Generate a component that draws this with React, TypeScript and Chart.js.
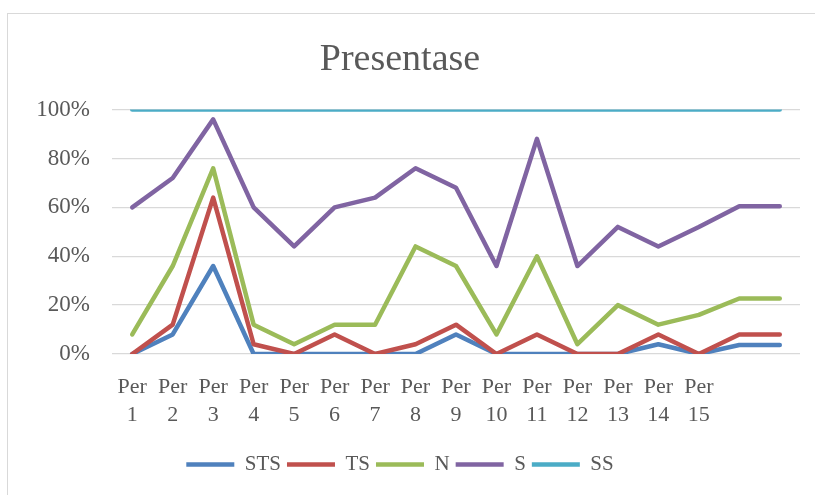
import React, { useEffect, useRef } from "react";
import { Chart, registerables } from "chart.js";

Chart.register(...registerables);

const categories = [
  "Per 1", "Per 2", "Per 3", "Per 4", "Per 5", "Per 6", "Per 7", "Per 8",
  "Per 9", "Per 10", "Per 11", "Per 12", "Per 13", "Per 14", "Per 15", "", "",
];

const STS = [0, 8, 36, 0, 0, 0, 0, 0, 8, 0, 0, 0, 0, 4, 0, 3.7, 3.7];
const TS = [0, 12, 64, 4, 0, 8, 0, 4, 12, 0, 8, 0, 0, 8, 0, 8, 8];
const N = [8, 36, 76, 12, 4, 12, 12, 44, 36, 8, 40, 4, 20, 12, 16, 22.7, 22.7];
const S = [60, 72, 96, 60, 44, 60, 64, 76, 68, 36, 88, 36, 52, 44, 52, 60.5, 60.5];
const SS = [100, 100, 100, 100, 100, 100, 100, 100, 100, 100, 100, 100, 100, 100, 100, 100, 100];

const seriesNames = ["STS", "TS", "N", "S", "SS"];
const seriesColors = ["#4F81BD", "#C0504D", "#9BBB59", "#8064A2", "#4BACC6"];
const yTicks = [0, 20, 40, 60, 80, 100];

const FONT = "'Liberation Serif', 'Times New Roman', serif";
const TEXT = "#595959";

export default function App() {
  const ref = useRef<HTMLCanvasElement>(null);

  useEffect(() => {
    if (!ref.current) return;
    const values = [STS, TS, N, S, SS];
    const chart = new Chart(ref.current, {
      type: "line",
      data: {
        labels: categories.map((c) => (c ? c.split(" ") : "")),
        datasets: values.map((v, i) => ({
          label: seriesNames[i],
          data: v,
          borderColor: seriesColors[i],
          backgroundColor: seriesColors[i],
          borderWidth: 4.5,
          borderCapStyle: "round" as const,
          borderJoinStyle: "round" as const,
          pointRadius: 0,
          pointHoverRadius: 0,
          tension: 0,
          fill: false,
          order: 5 - i,
        })),
      },
      options: {
        responsive: false,
        animation: false,
        layout: { padding: { left: 0, right: 15, top: 0, bottom: 10 } },
        plugins: {
          tooltip: { enabled: false },
          title: {
            display: true,
            text: "Presentase",
            color: TEXT,
            font: { family: FONT, size: 38, weight: "normal" },
            padding: { top: 37, bottom: 27 },
          },
          legend: {
            position: "bottom",
            labels: {
              color: TEXT,
              font: { family: FONT, size: 21 },
              usePointStyle: true,
              pointStyle: "line",
              pointStyleWidth: 48,
              boxWidth: 48,
              padding: 6,
              sort: (a: any, b: any) => a.datasetIndex - b.datasetIndex,
            },
          },
        },
        scales: {
          x: {
            offset: true,
            grid: { display: false, drawTicks: false },
            border: { display: false },
            ticks: {
              color: TEXT,
              font: { family: FONT, size: 22, lineHeight: 1.27 },
              padding: 19,
              maxRotation: 0,
              autoSkip: false,
            },
            afterFit: (s: any) => {
              s.height = 94;
            },
          },
          y: {
            min: 0,
            max: 100,
            grid: { color: "#d9d9d9", lineWidth: 1.3, drawTicks: false },
            border: { display: false },
            afterBuildTicks: (s: any) => {
              s.ticks = yTicks.map((v) => ({ value: v }));
            },
            ticks: {
              color: TEXT,
              font: { family: FONT, size: 23 },
              padding: 22,
              callback: (v: any) => v + "%",
            },
            afterFit: (s: any) => {
              s.width = 112;
            },
          },
        },
      },
    });
    return () => chart.destroy();
  }, []);

  return (
    <div style={{ position: "fixed", left: 0, top: 0, width: 815, height: 495, background: "#fff", overflow: "hidden" }}>
      <div
        style={{
          position: "absolute",
          left: 7,
          top: 13,
          width: 900,
          height: 600,
          border: "1px solid #d9d9d9",
          boxSizing: "border-box",
        }}
      />
      <canvas ref={ref} width={815} height={495} style={{ position: "absolute", left: 0, top: 0 }} />
    </div>
  );
}
